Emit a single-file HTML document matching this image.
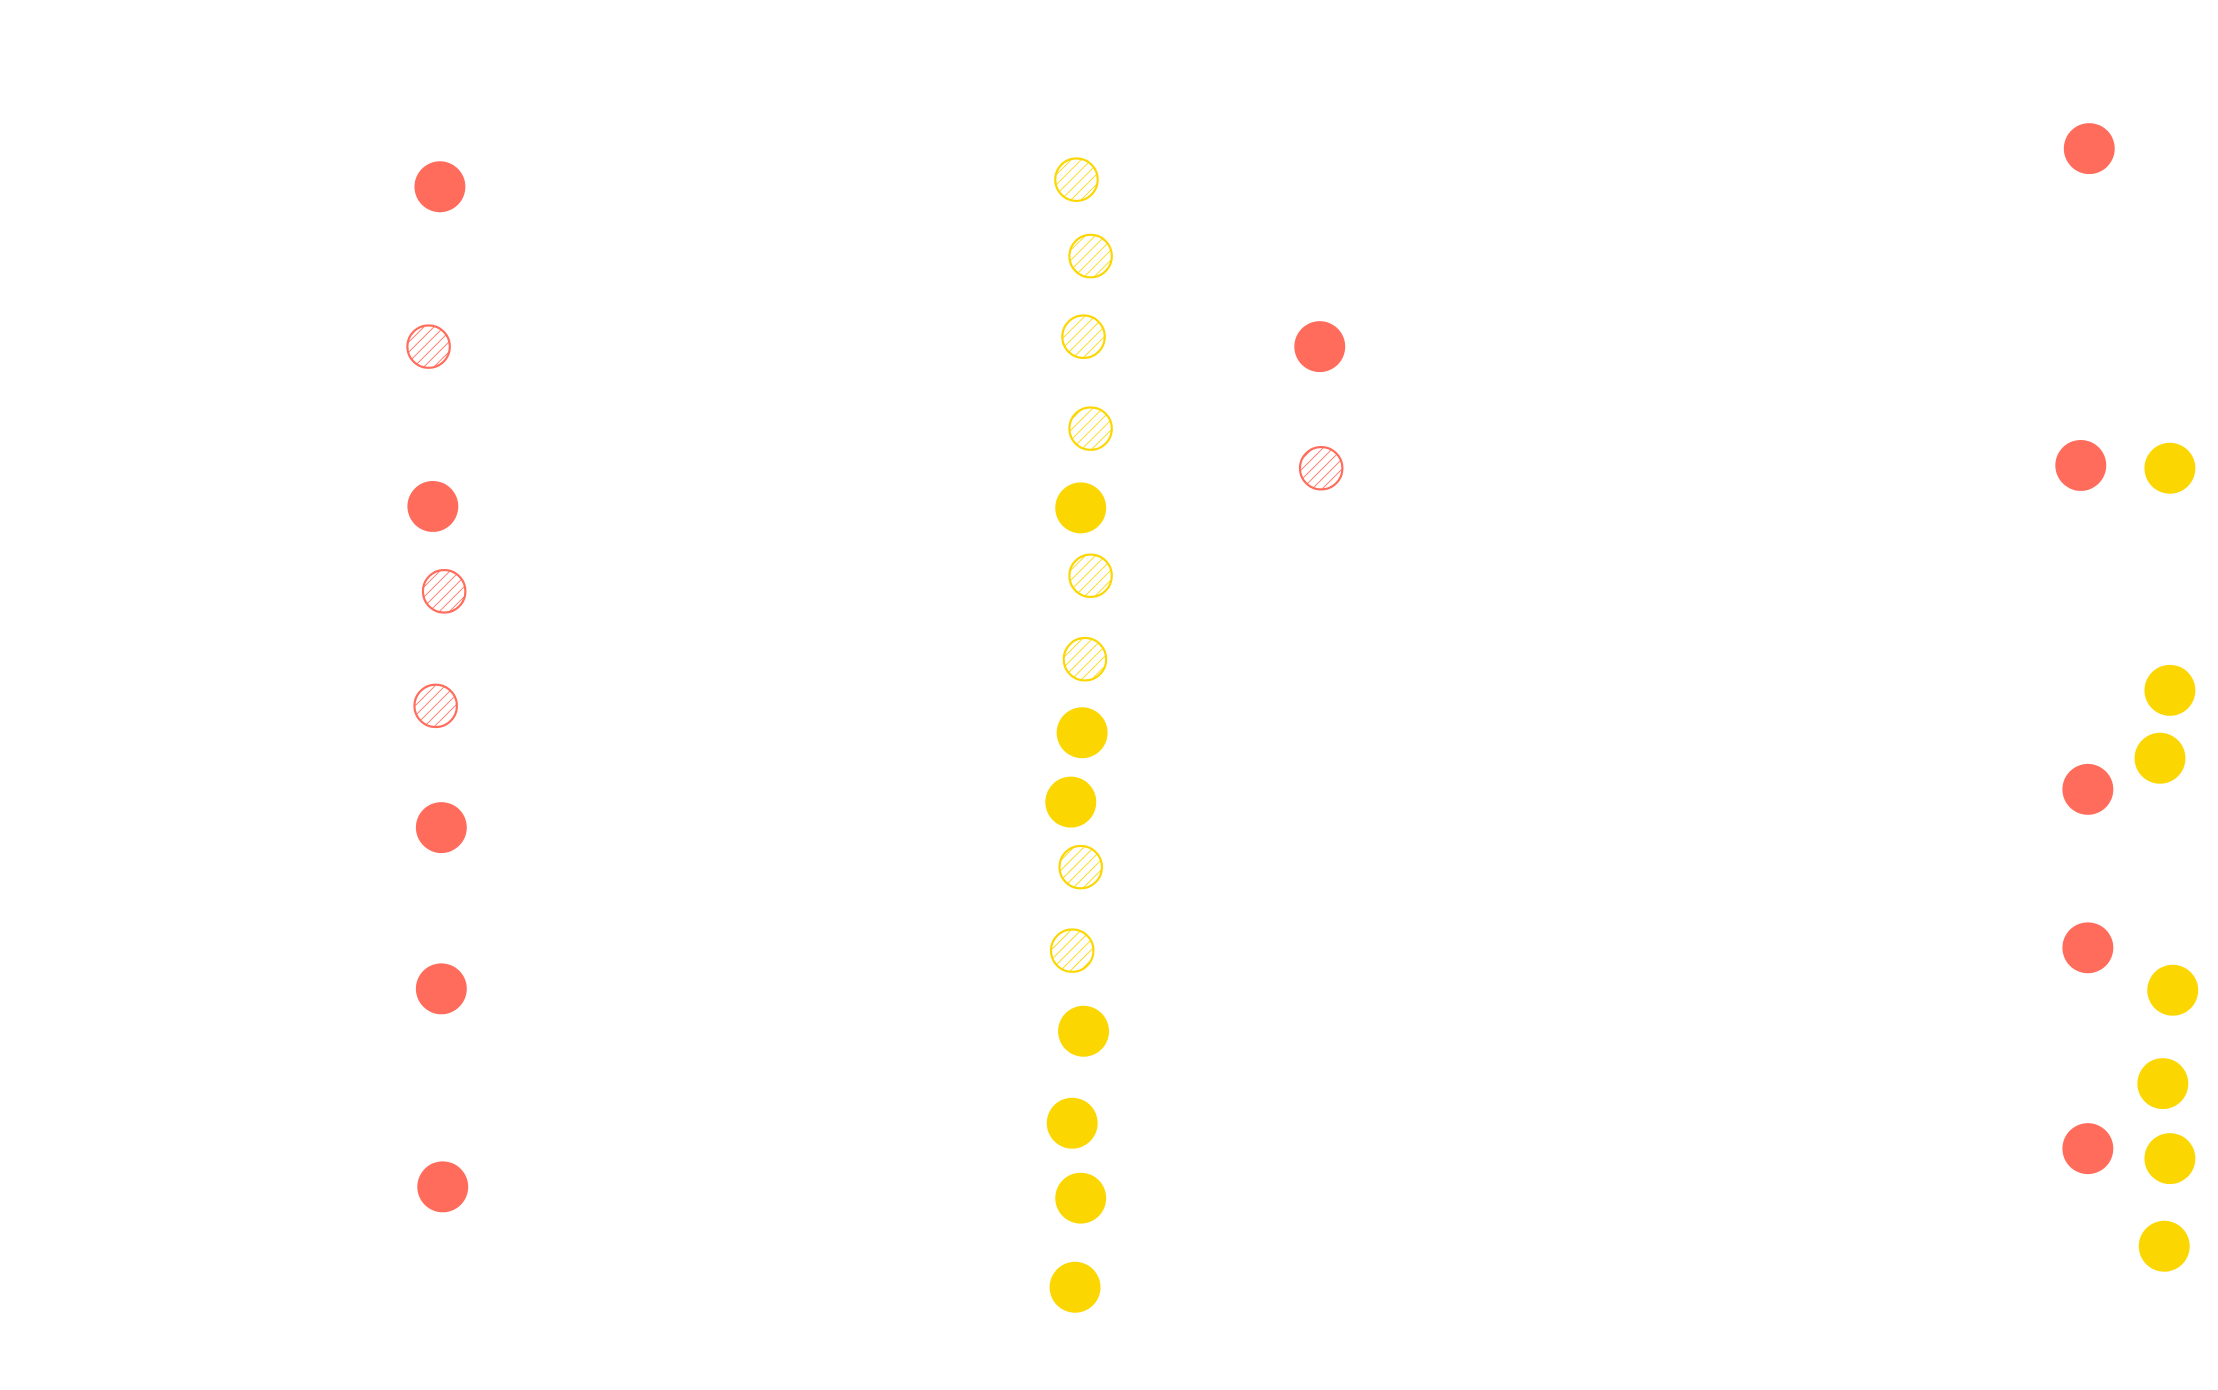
<!DOCTYPE html>
<html><head><meta charset="utf-8"><style>
html,body{margin:0;padding:0;background:#fff;}
svg{display:block;}
</style></head><body>
<svg width="2218" height="1390" viewBox="0 0 1568 982.6" xmlns="http://www.w3.org/2000/svg">
<defs>
<pattern id="hr" patternUnits="userSpaceOnUse" width="5" height="5" patternTransform="rotate(45)">
<line x1="0" y1="0" x2="0" y2="5" stroke="#ff6c5c" stroke-width="1.2"/></pattern>
<pattern id="hy" patternUnits="userSpaceOnUse" width="5" height="5" patternTransform="rotate(45)">
<line x1="0" y1="0" x2="0" y2="5" stroke="#fcd600" stroke-width="1.2"/></pattern>
</defs>
<g fill="#ff6c5c">
<circle cx="311" cy="132" r="18"/>
<circle cx="306" cy="358" r="18"/>
<circle cx="312" cy="585" r="18"/>
<circle cx="312" cy="699" r="18"/>
<circle cx="313" cy="839" r="18"/>
<circle cx="933" cy="245" r="18"/>
<circle cx="1477" cy="105" r="18"/>
<circle cx="1471" cy="329" r="18"/>
<circle cx="1476" cy="558" r="18"/>
<circle cx="1476" cy="670" r="18"/>
<circle cx="1476" cy="812" r="18"/>
</g>
<g fill="url(#hr)" stroke="#ff6c5c" stroke-width="1.5">
<circle cx="303" cy="245" r="15"/>
<circle cx="314" cy="418" r="15"/>
<circle cx="308" cy="499" r="15"/>
<circle cx="934" cy="331" r="15"/>
</g>
<g fill="#fcd600">
<circle cx="764" cy="359" r="18"/>
<circle cx="765" cy="518" r="18"/>
<circle cx="757" cy="567" r="18"/>
<circle cx="766" cy="729" r="18"/>
<circle cx="758" cy="794" r="18"/>
<circle cx="764" cy="847" r="18"/>
<circle cx="760" cy="910" r="18"/>
<circle cx="1534" cy="331" r="18"/>
<circle cx="1534" cy="488" r="18"/>
<circle cx="1527" cy="536" r="18"/>
<circle cx="1536" cy="700" r="18"/>
<circle cx="1529" cy="766" r="18"/>
<circle cx="1534" cy="819" r="18"/>
<circle cx="1530" cy="881" r="18"/>
</g>
<g fill="url(#hy)" stroke="#fcd600" stroke-width="1.5">
<circle cx="761" cy="127" r="15"/>
<circle cx="771" cy="181" r="15"/>
<circle cx="766" cy="238" r="15"/>
<circle cx="771" cy="303" r="15"/>
<circle cx="771" cy="407" r="15"/>
<circle cx="767" cy="466" r="15"/>
<circle cx="764" cy="613" r="15"/>
<circle cx="758" cy="672" r="15"/>
</g>
</svg>
</body></html>
